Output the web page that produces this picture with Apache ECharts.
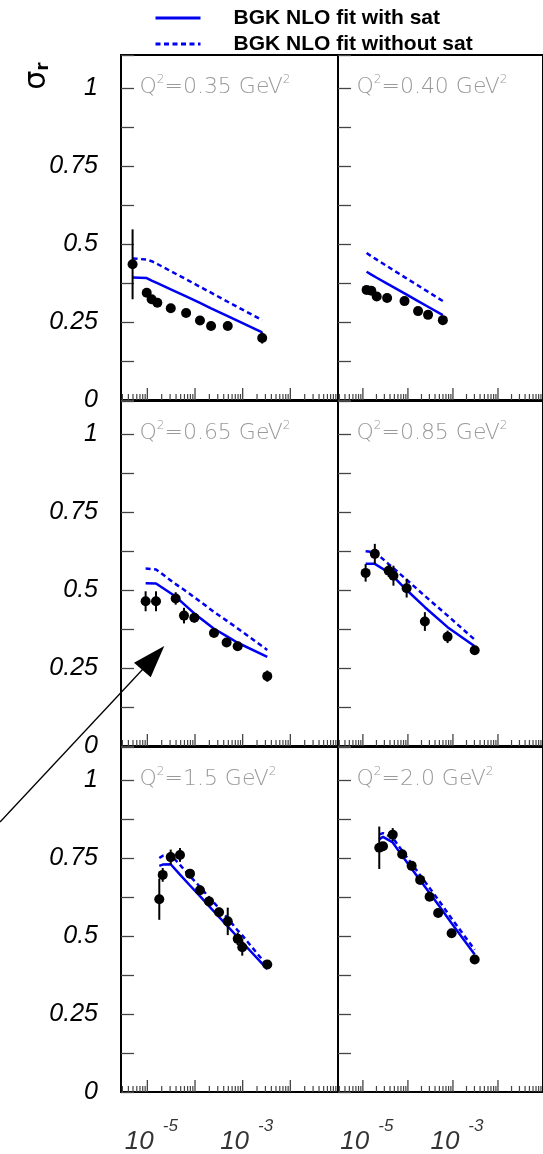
<!DOCTYPE html>
<html>
<head>
<meta charset="utf-8">
<script src="https://cdn.jsdelivr.net/npm/echarts@6/dist/echarts.min.js"></script>
<style>
  html, body { margin: 0; padding: 0; background: #fff; }
  #chart { width: 543px; height: 1154px; }
</style>
</head>
<body>
<div id="chart"></div>
<script>
// Reduced cross section sigma_r versus x, six Q^2 bins, data with BGK NLO fits

const NAME_SAT = 'BGK NLO fit with sat';
const NAME_NOSAT = 'BGK NLO fit without sat';

const q2Labels = ['0.35', '0.40', '0.65', '0.85', '1.5', '2.0'];

// Q^2 = 0.35 GeV^2
const x035 = [4.9e-6, 9.7e-6, 1.23e-5, 1.62e-5, 3.1e-5, 6.5e-5, 1.27e-4, 2.17e-4, 4.86e-4, 2.57e-3];
const sig035 = [0.435, 0.344, 0.323, 0.312, 0.294, 0.279, 0.255, 0.237, 0.237, 0.199];
const err035 = [0.112, 0.008, 0.008, 0.008, 0.008, 0.008, 0.008, 0.008, 0.008, 0.018];
const sat035 = [0.393, 0.391, 0.383, 0.375, 0.355, 0.332, 0.311, 0.294, 0.269, 0.217];
const nosat035 = [0.454, 0.450, 0.445, 0.436, 0.413, 0.387, 0.363, 0.344, 0.315, 0.256];

// Q^2 = 0.40 GeV^2
const x040 = [1.21e-5, 1.54e-5, 2.03e-5, 3.45e-5, 8.4e-5, 1.68e-4, 2.8e-4, 5.97e-4];
const sig040 = [0.353, 0.350, 0.332, 0.327, 0.317, 0.285, 0.273, 0.256];
const err040 = [0.008, 0.008, 0.008, 0.008, 0.008, 0.008, 0.008, 0.008];
const sat040 = [0.411, 0.402, 0.392, 0.373, 0.342, 0.317, 0.299, 0.272];
const nosat040 = [0.471, 0.461, 0.450, 0.429, 0.394, 0.367, 0.347, 0.317];

// Q^2 = 0.65 GeV^2
const x065 = [9.2e-6, 1.52e-5, 3.93e-5, 5.87e-5, 9.66e-5, 2.5e-4, 4.6e-4, 7.85e-4, 3.28e-3];
const sig065 = [0.464, 0.464, 0.473, 0.418, 0.411, 0.362, 0.332, 0.320, 0.224];
const err065 = [0.032, 0.032, 0.020, 0.025, 0.015, 0.012, 0.012, 0.012, 0.018];
const sat065 = [0.522, 0.521, 0.479, 0.455, 0.425, 0.376, 0.352, 0.331, 0.286];
const nosat065 = [0.569, 0.566, 0.519, 0.501, 0.477, 0.430, 0.402, 0.377, 0.308];

// Q^2 = 0.85 GeV^2
const x085 = [1.15e-5, 1.84e-5, 3.74e-5, 4.77e-5, 9.37e-5, 2.38e-4, 7.6e-4, 3.04e-3];
const sig085 = [0.555, 0.616, 0.562, 0.546, 0.506, 0.399, 0.350, 0.307];
const err085 = [0.028, 0.032, 0.020, 0.032, 0.030, 0.030, 0.020, 0.012];
const sat085 = [0.584, 0.584, 0.556, 0.543, 0.500, 0.445, 0.381, 0.320];
const nosat085 = [0.624, 0.622, 0.583, 0.570, 0.533, 0.481, 0.418, 0.341];

// Q^2 = 1.5 GeV^2
const x15 = [1.78e-5, 2.1e-5, 3.09e-5, 4.84e-5, 7.85e-5, 1.27e-4, 1.97e-4, 3.19e-4, 4.86e-4, 7.86e-4, 9.8e-4, 3.28e-3];
const sig15 = [0.618, 0.696, 0.753, 0.760, 0.700, 0.647, 0.611, 0.576, 0.547, 0.491, 0.464, 0.409];
const err15 = [0.066, 0.022, 0.024, 0.022, 0.015, 0.015, 0.016, 0.015, 0.044, 0.020, 0.027, 0.010];
const sat15 = [0.725, 0.729, 0.730, 0.697, 0.662, 0.628, 0.596, 0.561, 0.531, 0.496, 0.480, 0.394];
const nosat15 = [0.750, 0.757, 0.760, 0.728, 0.692, 0.658, 0.624, 0.589, 0.557, 0.518, 0.502, 0.405];

// Q^2 = 2.0 GeV^2
const x20 = [2.31e-5, 2.8e-5, 4.6e-5, 7.46e-5, 1.21e-4, 1.87e-4, 3.03e-4, 4.69e-4, 9.35e-4, 3.04e-3];
const sig20 = [0.783, 0.788, 0.825, 0.762, 0.725, 0.680, 0.626, 0.574, 0.509, 0.425];
const err20 = [0.068, 0.012, 0.021, 0.010, 0.010, 0.010, 0.010, 0.010, 0.010, 0.010];
const sat20 = [0.810, 0.818, 0.800, 0.757, 0.716, 0.679, 0.638, 0.601, 0.541, 0.441];
const nosat20 = [0.826, 0.830, 0.815, 0.773, 0.732, 0.695, 0.654, 0.617, 0.556, 0.456];

// axis ranges and tick labels
const X_MIN = 2.8e-6;
const X_MAX = 0.1;
const Y_MIN = 0;
const Y_MAX = 1.106;
const yTickLabels = ['0', '0.25', '0.5', '0.75', '1'];
const xLabelExps = [-5, -3];

const panels = [
  { q2: q2Labels[0], x: x035, y: sig035, e: err035, sat: sat035, nosat: nosat035 },
  { q2: q2Labels[1], x: x040, y: sig040, e: err040, sat: sat040, nosat: nosat040 },
  { q2: q2Labels[2], x: x065, y: sig065, e: err065, sat: sat065, nosat: nosat065 },
  { q2: q2Labels[3], x: x085, y: sig085, e: err085, sat: sat085, nosat: nosat085 },
  { q2: q2Labels[4], x: x15, y: sig15, e: err15, sat: sat15, nosat: nosat15 },
  { q2: q2Labels[5], x: x20, y: sig20, e: err20, sat: sat20, nosat: nosat20 }
];

// frame layout
const COL_LEFT = [121, 338];
const COL_W = 217;
const ROW_TOP = [55, 401, 747];
const ROW_H = 345;

const BLUE = '#0000f0';
const FONT = 'Liberation Sans, Arial, sans-serif';

// log-scale tick positions along x
const majorTicks = [];
const minorTicks = [];
for (let n = -6; n <= -2; n++) {
  const d = Math.pow(10, n);
  if (d >= X_MIN && d < X_MAX) majorTicks.push([d, 0]);
  for (let k = 2; k <= 9; k++) {
    const v = k * d;
    if (v > X_MIN && v < X_MAX) minorTicks.push([v, 0]);
  }
}

const grids = [], xAxes = [], yAxes = [], series = [], graphics = [];

panels.forEach((p, i) => {
  const row = Math.floor(i / 2), col = i % 2;
  grids.push({
    left: COL_LEFT[col], top: ROW_TOP[row], width: COL_W, height: ROW_H,
    show: true, borderColor: '#000', borderWidth: 2, backgroundColor: 'transparent'
  });
  xAxes.push({
    type: 'log', logBase: 10, gridIndex: i, min: X_MIN, max: X_MAX,
    axisLine: { show: false }, axisTick: { show: false },
    axisLabel: { show: false }, splitLine: { show: false }
  });
  yAxes.push({
    type: 'value', gridIndex: i, min: Y_MIN, max: Y_MAX, interval: 0.125,
    axisLine: { show: false },
    splitLine: { show: false },
    axisTick: { show: true, inside: true, length: 13, lineStyle: { color: '#444', width: 1.3 } },
    axisLabel: {
      show: col === 0, margin: 23, color: '#000',
      fontFamily: FONT, fontStyle: 'italic', fontSize: 25,
      formatter: v => {
        const idx = Math.round(v * 4);
        if (Math.abs(v * 4 - idx) > 1e-6 || idx < 0 || idx >= yTickLabels.length) return '';
        return yTickLabels[idx];
      }
    }
  });

  // bottom tick marks
  series.push({
    type: 'scatter', xAxisIndex: i, yAxisIndex: i, silent: true, z: 6,
    data: minorTicks, symbol: 'rect', symbolSize: [1.2, 6], symbolOffset: [0, -3],
    itemStyle: { color: '#444', opacity: 1 }
  });
  series.push({
    type: 'scatter', xAxisIndex: i, yAxisIndex: i, silent: true, z: 6,
    data: majorTicks, symbol: 'rect', symbolSize: [1.3, 12], symbolOffset: [0, -6],
    itemStyle: { color: '#444', opacity: 1 }
  });

  // fit curves
  series.push({
    name: NAME_SAT, type: 'line', xAxisIndex: i, yAxisIndex: i, silent: true, z: 3,
    data: p.x.map((v, j) => [v, p.sat[j]]),
    symbol: 'none', lineStyle: { color: BLUE, width: 2.5 }, itemStyle: { color: BLUE }
  });
  series.push({
    name: NAME_NOSAT, type: 'line', xAxisIndex: i, yAxisIndex: i, silent: true, z: 3,
    data: p.x.map((v, j) => [v, p.nosat[j]]),
    symbol: 'none', lineStyle: { color: BLUE, width: 2.5, type: [5, 3.5] }, itemStyle: { color: BLUE }
  });

  // error bars
  series.push({
    type: 'custom', xAxisIndex: i, yAxisIndex: i, silent: true, z: 4,
    data: p.x.map((v, j) => [v, p.y[j] - p.e[j], p.y[j] + p.e[j]]),
    encode: { x: 0, y: [1, 2] },
    renderItem: (params, api) => {
      const lo = api.coord([api.value(0), api.value(1)]);
      const hi = api.coord([api.value(0), api.value(2)]);
      return {
        type: 'line',
        shape: { x1: lo[0], y1: lo[1], x2: hi[0], y2: hi[1] },
        style: { stroke: '#000', lineWidth: 2 }
      };
    }
  });

  // data points
  series.push({
    type: 'scatter', xAxisIndex: i, yAxisIndex: i, silent: true, z: 5,
    data: p.x.map((v, j) => [v, p.y[j]]),
    symbol: 'circle', symbolSize: 10, itemStyle: { color: '#000', opacity: 1 }
  });

  // decade labels under the bottom row
  if (row === 2) {
    series.push({
      type: 'scatter', xAxisIndex: i, yAxisIndex: i, silent: true, z: 6,
      data: xLabelExps.map(e => [Math.pow(10, e), 0]),
      symbolSize: 1, itemStyle: { color: 'rgba(0,0,0,0)' },
      label: {
        show: true, position: 'bottom', distance: 25, offset: [4, 0],
        formatter: prm => '{a|10}{b|' + xLabelExps[prm.dataIndex] + '}',
        rich: {
          a: { fontFamily: FONT, fontStyle: 'italic', fontSize: 26, lineHeight: 37, verticalAlign: 'bottom', color: '#000' },
          b: { fontFamily: FONT, fontStyle: 'italic', fontSize: 17, lineHeight: 18, verticalAlign: 'top', color: '#000', padding: [0, 0, 0, 9] }
        }
      }
    });
  }

  // Q^2 bin label at the height of sigma_r = 1
  const yOne = ROW_TOP[row] + ROW_H - ROW_H * (1 - Y_MIN) / (Y_MAX - Y_MIN);
  graphics.push({
    type: 'text', left: COL_LEFT[col] + 18.5, top: yOne - 14, silent: true, z: 10,
    style: {
      text: 'Q{s|2}=' + p.q2 + ' GeV{s|2}',
      fontFamily: 'DejaVu Sans', fontWeight: 200, fontSize: 22, lineHeight: 26,
      fill: '#9a9a9a',
      rich: { s: { fontFamily: 'DejaVu Sans', fontWeight: 200, fontSize: 12, lineHeight: 12, verticalAlign: 'top', fill: '#9a9a9a' } }
    }
  });
});

// axis title sigma_r, reading upwards
graphics.push({
  type: 'text', x: 35, y: 76, rotation: Math.PI / 2, silent: true,
  style: {
    text: '{s|σ}{r|r}', align: 'center', verticalAlign: 'middle',
    rich: {
      s: { fontFamily: 'DejaVu Sans', fontSize: 30, lineHeight: 34, verticalAlign: 'bottom', fill: '#000' },
      r: { fontFamily: 'DejaVu Sans', fontSize: 17, fontWeight: 'bold', lineHeight: 18, verticalAlign: 'bottom', fill: '#000' }
    }
  }
});

// annotation arrow pointing at the Q^2 = 0.65 bin
graphics.push({
  type: 'polyline', silent: true, z: 10,
  shape: { points: [[0, 822], [143, 669]] },
  style: { stroke: '#000', lineWidth: 1.3, fill: null }
});
graphics.push({
  type: 'polygon', silent: true, z: 10,
  shape: { points: [[164.3, 646], [134, 662.7], [150.7, 677.3]] },
  style: { fill: '#000' }
});

const chart = echarts.init(document.getElementById('chart'), null, { renderer: 'canvas' });
chart.setOption({
  animation: false,
  backgroundColor: '#fff',
  legend: {
    orient: 'vertical', left: 154, top: 7.5, padding: 0,
    itemWidth: 45, itemHeight: 24, itemGap: 5, selectedMode: false,
    data: [NAME_SAT, NAME_NOSAT],
    itemStyle: { opacity: 0 },
    lineStyle: { width: 3 },
    formatter: n => '{t|' + n + '}',
    textStyle: {
      rich: { t: { fontFamily: FONT, fontSize: 21, fontWeight: 'bold', color: '#000', lineHeight: 24, padding: [0, 0, 0, 28] } }
    }
  },
  grid: grids,
  xAxis: xAxes,
  yAxis: yAxes,
  series: series,
  graphic: graphics
});
</script>
</body>
</html>
